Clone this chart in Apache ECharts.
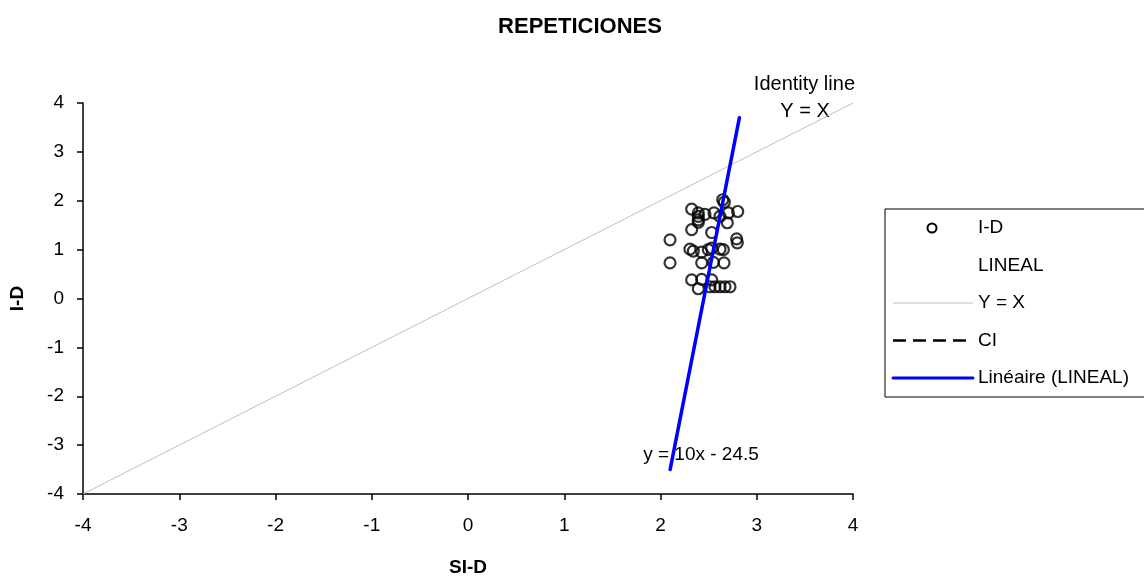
<!DOCTYPE html>
<html>
<head>
<meta charset="utf-8">
<script src="https://cdn.jsdelivr.net/npm/echarts@6/dist/echarts.min.js"></script>
<style>
  html, body { margin: 0; padding: 0; background: #fff; }
  #chart { width: 1144px; height: 579px; }
</style>
</head>
<body>
<div id="chart"></div>
<script>
// Observed pairs: SI-D (x) against I-D (y)
const siD = [2.646, 2.663, 2.324, 2.393, 2.393, 2.393, 2.393, 2.462, 2.556, 2.618,
             2.705, 2.802, 2.324, 2.532, 2.694, 2.099, 2.791, 2.798, 2.306, 2.341,
             2.428, 2.497, 2.532, 2.618, 2.653, 2.099, 2.428, 2.549, 2.660, 2.324,
             2.428, 2.532, 2.393, 2.514, 2.566, 2.618, 2.670, 2.722];
const iD  = [2.02, 1.97, 1.83, 1.75, 1.68, 1.61, 1.56, 1.72, 1.75, 1.68,
             1.75, 1.78, 1.41, 1.35, 1.55, 1.20, 1.22, 1.14, 1.01, 0.97,
             0.95, 1.00, 1.03, 1.01, 1.00, 0.73, 0.73, 0.74, 0.73, 0.38,
             0.39, 0.38, 0.20, 0.24, 0.24, 0.24, 0.24, 0.24];

// Linear fit y = slope * x + intercept, drawn over the x span below
const slope = 10;
const intercept = -24.5;
const fitSpan = [2.1, 2.82];

// Identity line Y = X across the whole axis range
const identitySpan = [-4, 4];

const axisTicks = { min: -4, max: 4, step: 1 };

const legendLabels = ['I-D', 'LINEAL', 'Y = X', 'CI', 'Linéaire (LINEAL)'];

const FONT = 'Liberation Sans, Arial, sans-serif';

const scatterData = siD.map((x, i) => [x, iD[i]]);
const fitData = fitSpan.map(x => [x, slope * x + intercept]);
const identityData = identitySpan.map(v => [v, v]);

const chart = echarts.init(document.getElementById('chart'), null, { renderer: 'canvas' });

const axisCommon = {
  type: 'value',
  min: axisTicks.min,
  max: axisTicks.max,
  interval: axisTicks.step,
  axisLine: { show: true, onZero: false, lineStyle: { color: '#000', width: 1.5 } },
  axisTick: { show: true, inside: false, length: 6, lineStyle: { color: '#000', width: 1.5 } },
  splitLine: { show: false },
  axisLabel: { color: '#000', fontSize: 19, fontFamily: FONT },
  nameTextStyle: { color: '#000', fontSize: 19, fontWeight: 'bold', fontFamily: FONT }
};

// Legend block drawn as graphics
const lx = 885, ly = 209, rowH = 37.5, row0 = 19, sampleL = 893, sampleR = 973, textX = 978;
const legendGraphics = [
  { type: 'rect', shape: { x: lx, y: ly, width: 300, height: 188 },
    style: { fill: '#fff', stroke: '#000', lineWidth: 1 }, z: 10 },
  { type: 'circle', shape: { cx: 932, cy: ly + row0, r: 4.5 },
    style: { fill: '#fff', stroke: '#000', lineWidth: 2 }, z: 11 },
  { type: 'line', shape: { x1: sampleL, y1: ly + row0 + rowH * 2, x2: sampleR, y2: ly + row0 + rowH * 2 },
    style: { stroke: '#c0c0c0', lineWidth: 1 }, z: 11 },
  { type: 'line', shape: { x1: sampleL, y1: ly + row0 + rowH * 3, x2: sampleR, y2: ly + row0 + rowH * 3 },
    style: { stroke: '#000', lineWidth: 2.5, lineDash: [13, 7] }, z: 11 },
  { type: 'line', shape: { x1: sampleL, y1: ly + row0 + rowH * 4, x2: sampleR, y2: ly + row0 + rowH * 4 },
    style: { stroke: '#0000ff', lineWidth: 3, lineCap: 'round' }, z: 11 }
];
legendLabels.forEach((t, i) => {
  legendGraphics.push({
    type: 'text', x: textX, y: ly + row0 + rowH * i, z: 11,
    style: { text: t, fill: '#000', fontSize: 19, fontFamily: FONT,
             textAlign: 'left', textVerticalAlign: 'middle' }
  });
});

const option = {
  backgroundColor: '#fff',
  animation: false,
  title: {
    text: 'REPETICIONES',
    left: 575, top: 11, textAlign: 'center',
    textStyle: { color: '#000', fontSize: 22, fontWeight: 'bold', fontFamily: FONT }
  },
  grid: { left: 83, right: 291, top: 103, bottom: 85, containLabel: false, outerBoundsMode: 'none' },
  xAxis: Object.assign({}, axisCommon, {
    name: 'SI-D', nameLocation: 'middle', nameGap: 64,
    axisLabel: Object.assign({}, axisCommon.axisLabel, { margin: 22 })
  }),
  yAxis: Object.assign({}, axisCommon, {
    name: 'I-D', nameLocation: 'middle', nameGap: 56, nameRotate: 90,
    axisLabel: Object.assign({}, axisCommon.axisLabel, { margin: 19 })
  }),
  series: [
    {
      name: 'Y = X', type: 'line', data: identityData, symbol: 'none',
      lineStyle: { color: '#c0c0c0', width: 1 }, z: 1, silent: true
    },
    {
      name: 'I-D', type: 'scatter', data: scatterData, symbol: 'circle', symbolSize: 11,
      itemStyle: { color: 'rgba(255,255,255,0)', borderColor: '#000', borderWidth: 2.2 }, z: 2
    },
    {
      name: 'Linéaire (LINEAL)', type: 'line', data: fitData, symbol: 'none',
      lineStyle: { color: '#0000ff', width: 3.5, cap: 'round' }, z: 3, silent: true
    }
  ],
  graphic: [
    { type: 'text', x: 855, y: 84, style: { text: 'Identity line', fill: '#000', fontSize: 20,
      fontFamily: FONT, textAlign: 'right', textVerticalAlign: 'middle' } },
    { type: 'text', x: 805, y: 111, style: { text: 'Y = X', fill: '#000', fontSize: 20,
      fontFamily: FONT, textAlign: 'center', textVerticalAlign: 'middle' } },
    { type: 'text', x: 701, y: 455, style: { text: 'y = 10x - 24.5', fill: '#000', fontSize: 19,
      fontFamily: FONT, textAlign: 'center', textVerticalAlign: 'middle' } }
  ].concat(legendGraphics)
};

chart.setOption(option);
</script>
</body>
</html>
